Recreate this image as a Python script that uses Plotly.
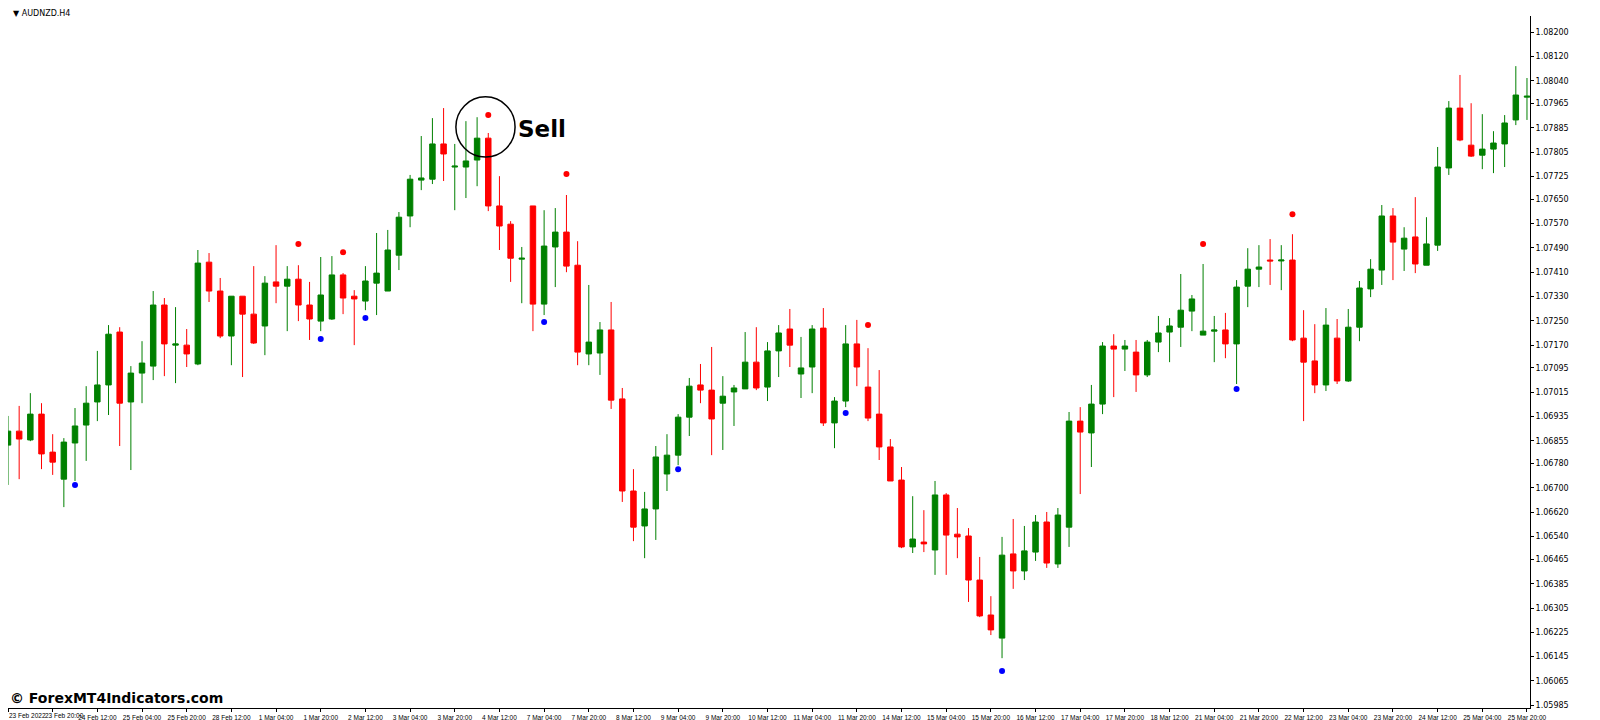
import plotly.graph_objects as go

# AUDNZD H4, prices in 1e-5 units
opens = [106841, 106887, 106858, 106943, 106818, 106729, 106848, 106907, 106983, 107039,
         107213, 106983, 107078, 107101, 107302, 107170, 107170, 107108, 107443, 107348,
         107200, 107331, 107272, 107233, 107378, 107364, 107387, 107302, 107249, 107256,
         107401, 107331, 107315, 107374, 107348, 107466, 107595, 107713, 107716, 107832,
         107756, 107756, 107779, 107851, 107628, 107568, 107453, 107628, 107305, 107493,
         107542, 107433, 107141, 107144, 107220, 106993, 106690, 106575, 106631, 106746,
         106808, 106933, 107039, 107022, 106979, 107016, 107026, 107114, 107032, 107151,
         107223, 107075, 107098, 107226, 106914, 106986, 107174, 107032, 106943, 106835,
         106726, 106506, 106522, 106496, 106677, 106548, 106542, 106397, 106282, 106206,
         106483, 106427, 106489, 106588, 106450, 106571, 106920, 106881, 106976, 107167,
         107157, 107147, 107072, 107180, 107213, 107229, 107282, 107203, 107216, 107220,
         107174, 107364, 107420, 107450, 107447, 107450, 107193, 107118, 107039, 107193,
         107052, 107229, 107355, 107417, 107595, 107486, 107526, 107433, 107499, 107753,
         107950, 107828, 107795, 107815, 107832, 107911, 107986]
highs = [106937, 106970, 107012, 106979, 106877, 106864, 106963, 107035, 107151, 107236,
         107229, 107101, 107183, 107348, 107325, 107295, 107223, 107483, 107473, 107391,
         107331, 107331, 107430, 107397, 107499, 107430, 107433, 107378, 107460, 107463,
         107407, 107351, 107430, 107539, 107549, 107608, 107730, 107858, 107917, 107950,
         107832, 107907, 107920, 107868, 107726, 107578, 107493, 107628, 107614, 107621,
         107664, 107512, 107368, 107246, 107312, 107029, 106762, 106687, 106838, 106877,
         106943, 107062, 107108, 107164, 107068, 107039, 107213, 107229, 107180, 107236,
         107289, 107197, 107236, 107292, 106999, 107236, 107253, 107160, 107088, 106861,
         106769, 106673, 106627, 106723, 106683, 106634, 106568, 106473, 106344, 106539,
         106598, 106575, 106611, 106621, 106634, 106950, 106966, 107039, 107180, 107206,
         107187, 107187, 107187, 107266, 107259, 107404, 107335, 107437, 107266, 107276,
         107384, 107489, 107499, 107519, 107499, 107535, 107285, 107239, 107292, 107256,
         107289, 107381, 107453, 107631, 107621, 107558, 107657, 107591, 107822, 107973,
         108059, 107966, 107930, 107874, 107927, 108088, 108049]
lows = [106710, 106729, 106854, 106762, 106743, 106637, 106723, 106789, 106920, 106940,
        106838, 106759, 106979, 107055, 107068, 107045, 107098, 107104, 107312, 107193,
        107104, 107065, 107174, 107137, 107308, 107216, 107249, 107187, 107216, 107253,
        107272, 107170, 107285, 107269, 107348, 107417, 107558, 107680, 107700, 107710,
        107614, 107654, 107693, 107611, 107483, 107378, 107308, 107216, 107269, 107361,
        107410, 107104, 107104, 107072, 106960, 106654, 106525, 106469, 106529, 106690,
        106775, 106871, 106979, 106808, 106825, 106904, 107026, 107022, 106986, 107065,
        107098, 106996, 107012, 106904, 106831, 106966, 107035, 106920, 106792, 106723,
        106502, 106486, 106489, 106414, 106414, 106469, 106325, 106275, 106216, 106140,
        106368, 106397, 106460, 106437, 106437, 106506, 106680, 106769, 106943, 106999,
        107085, 107016, 107065, 107147, 107114, 107164, 107216, 107203, 107114, 107127,
        107042, 107295, 107361, 107368, 107351, 107183, 106920, 107012, 107019, 107042,
        107049, 107183, 107328, 107368, 107384, 107414, 107407, 107433, 107480, 107730,
        107841, 107789, 107749, 107736, 107756, 107894, 107911]
closes = [106887, 106861, 106943, 106812, 106785, 106851, 106904, 106979, 107039, 107206,
          106979, 107078, 107111, 107302, 107174, 107174, 107141, 107440, 107348, 107200,
          107331, 107272, 107177, 107374, 107364, 107387, 107302, 107256, 107335, 107401,
          107325, 107322, 107381, 107407, 107483, 107591, 107716, 107720, 107832, 107799,
          107759, 107776, 107851, 107628, 107562, 107456, 107456, 107305, 107496, 107542,
          107430, 107147, 107180, 107220, 106989, 106690, 106571, 106631, 106802, 106808,
          106933, 107035, 107022, 106927, 107002, 107029, 107114, 107029, 107151, 107210,
          107170, 107095, 107223, 106914, 106986, 107174, 107098, 106930, 106835, 106723,
          106506, 106532, 106516, 106677, 106545, 106539, 106397, 106279, 106233, 106479,
          106427, 106493, 106588, 106453, 106611, 106920, 106884, 106976, 107167, 107157,
          107167, 107072, 107180, 107210, 107233, 107285, 107322, 107216, 107220, 107174,
          107361, 107420, 107427, 107447, 107450, 107187, 107114, 107039, 107236, 107052,
          107229, 107358, 107420, 107595, 107509, 107522, 107437, 107503, 107756, 107950,
          107845, 107792, 107815, 107835, 107901, 107993, 107989]

sell_bars = [26, 30, 43, 50, 77, 107, 115]
sell_prices = [107503, 107476, 107927, 107733, 107236, 107503, 107601]
buy_bars = [6, 28, 32, 48, 60, 75, 89, 110]
buy_prices = [106710, 107190, 107259, 107246, 106762, 106947, 106098, 107026]

time_labels = ["23 Feb 2022", "23 Feb 20:00", "24 Feb 12:00", "25 Feb 04:00", "25 Feb 20:00",
               "28 Feb 12:00", "1 Mar 04:00", "1 Mar 20:00", "2 Mar 12:00", "3 Mar 04:00",
               "3 Mar 20:00", "4 Mar 12:00", "7 Mar 04:00", "7 Mar 20:00", "8 Mar 12:00",
               "9 Mar 04:00", "9 Mar 20:00", "10 Mar 12:00", "11 Mar 04:00", "11 Mar 20:00",
               "14 Mar 12:00", "15 Mar 04:00", "15 Mar 20:00", "16 Mar 12:00", "17 Mar 04:00",
               "17 Mar 20:00", "18 Mar 12:00", "21 Mar 04:00", "21 Mar 20:00", "22 Mar 12:00",
               "23 Mar 04:00", "23 Mar 20:00", "24 Mar 12:00", "25 Mar 04:00", "25 Mar 20:00"]
price_ticks = [1.08200, 1.08120, 1.08040, 1.07965, 1.07885, 1.07805, 1.07725, 1.07650,
               1.07570, 1.07490, 1.07410, 1.07330, 1.07250, 1.07170, 1.07095, 1.07015,
               1.06935, 1.06855, 1.06780, 1.06700, 1.06620, 1.06540, 1.06465, 1.06385,
               1.06305, 1.06225, 1.06145, 1.06065, 1.05985]

def px(vals):
    return [v / 1e5 for v in vals]

bars = list(range(len(opens)))
axis_font = dict(family='Liberation Sans', size=6.5, color='black')

fig = go.Figure()
fig.add_trace(go.Candlestick(
    x=bars, open=px(opens), high=px(highs), low=px(lows), close=px(closes),
    increasing=dict(line=dict(color='#008000', width=1), fillcolor='#008000'),
    decreasing=dict(line=dict(color='#FF0000', width=1), fillcolor='#FF0000'),
    whiskerwidth=0,
))
fig.add_trace(go.Scatter(x=sell_bars, y=px(sell_prices), mode='markers',
                         marker=dict(color='#FF0000', size=6)))
fig.add_trace(go.Scatter(x=buy_bars, y=px(buy_prices), mode='markers',
                         marker=dict(color='#0000FF', size=6)))

# circle around the sell signal
fig.add_shape(type='circle', xref='x', yref='y', x0=40.1, x1=45.4, y0=1.07789, y1=1.07987,
              line=dict(color='black', width=1.5))
fig.add_annotation(x=45.5, y=1.07881, text='<b>Sell</b>', showarrow=False, xanchor='left',
                   font=dict(family='DejaVu Sans', size=23, color='black'))
fig.add_annotation(x=0.002, y=1.0, xref='paper', yref='paper', yanchor='bottom', xanchor='left',
                   text='▼ AUDNZD.H4', showarrow=False, yshift=-4,
                   font=dict(family='DejaVu Sans', size=8, color='black'))
fig.add_annotation(x=0.0, y=0.0, xref='paper', yref='paper', xanchor='left', yanchor='bottom',
                   text='<b>© ForexMT4Indicators.com</b>', showarrow=False, yshift=0,
                   font=dict(family='DejaVu Sans', size=14, color='black'))
# first two time labels are left-aligned like the terminal draws them
fig.add_annotation(x=0, y=0.0, xref='x', yref='paper', xanchor='left', yanchor='top',
                   text=time_labels[0], showarrow=False, yshift=-3, borderpad=0, font=axis_font)
fig.add_annotation(x=3.2, y=0.0, xref='x', yref='paper', xanchor='left', yanchor='top',
                   text=time_labels[1], showarrow=False, yshift=-3, borderpad=0, font=axis_font)

fig.update_layout(
    autosize=True,
    margin=dict(l=0, r=62, t=8, b=20),
    paper_bgcolor='white', plot_bgcolor='white',
    showlegend=False,
    xaxis=dict(range=[0, 136.27], rangeslider=dict(visible=False),
               tickvals=list(range(0, 137, 4)), ticktext=['', ''] + time_labels[2:], tickangle=0,
               tickfont=axis_font,
               ticks='outside', ticklen=3, tickcolor='black',
               showline=True, linecolor='black', showgrid=False, zeroline=False),
    yaxis=dict(range=[1.05976, 1.08253], side='right', tickvals=price_ticks,
               ticktext=[f'{t:.5f}' for t in price_ticks],
               tickfont=dict(family='DejaVu Sans', size=8, color='black'),
               ticks='outside', ticklen=3, tickcolor='black',
               showline=True, linecolor='black', showgrid=False, zeroline=False),
)

fig.write_html("out.html", default_height='100vh', default_width='100%')
